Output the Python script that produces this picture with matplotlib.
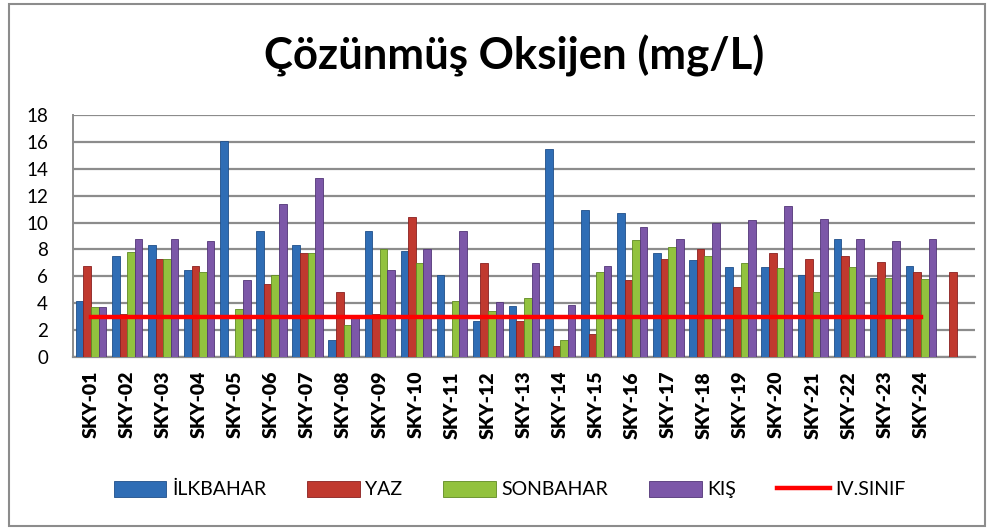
import numpy as np
import matplotlib
matplotlib.use("Agg")
import matplotlib.pyplot as plt
from matplotlib.patches import Rectangle

plt.rcParams['font.family'] = ['Lato', 'DejaVu Sans']

# Data
stations = ["SKY-01", "SKY-02", "SKY-03", "SKY-04", "SKY-05", "SKY-06", "SKY-07", "SKY-08",
            "SKY-09", "SKY-10", "SKY-11", "SKY-12", "SKY-13", "SKY-14", "SKY-15", "SKY-16",
            "SKY-17", "SKY-18", "SKY-19", "SKY-20", "SKY-21", "SKY-22", "SKY-23", "SKY-24", ""]
ilkbahar = [4.2, 7.5, 8.3, 6.5, 16.1, 9.4, 8.3, 1.3, 9.4, 7.9, 6.1, 2.7, 3.8, 15.5, 10.9,
            10.7, 7.7, 7.2, 6.7, 6.7, 6.1, 8.8, 5.9, 6.8, np.nan]
yaz = [6.8, 3.2, 7.3, 6.8, 0, 5.4, 7.7, 4.8, 3.2, 10.4, 0, 7.0, 2.7, 0.8, 1.7,
       5.7, 7.3, 8.0, 5.2, 7.7, 7.3, 7.5, 7.1, 6.3, 6.3]
sonbahar = [3.7, 7.8, 7.3, 6.3, 3.6, 6.1, 7.7, 2.4, 8.0, 7.0, 4.2, 3.4, 4.4, 1.3, 6.3,
            8.7, 8.2, 7.5, 7.0, 6.6, 4.8, 6.7, 5.9, 5.8, np.nan]
kis = [3.7, 8.8, 8.8, 8.6, 5.7, 11.4, 13.3, 2.9, 6.5, 8.0, 9.4, 4.1, 7.0, 3.9, 6.8,
       9.7, 8.8, 10.0, 10.2, 11.2, 10.3, 8.8, 8.6, 8.8, np.nan]
sinif = [3, 3, 3, 3, 3, 3, 3, 3, 3, 3, 3, 3, 3, 3, 3, 3, 3, 3, 3, 3, 3, 3, 3, 3]

series = [
    ("İLKBAHAR", ilkbahar, "#2f6db5", "#1f4f8a"),
    ("YAZ", yaz, "#c0392f", "#8a2020"),
    ("SONBAHAR", sonbahar, "#92c23e", "#5f8a22"),
    ("KIŞ", kis, "#7c57a8", "#523577"),
]

fig = plt.figure(figsize=(9.94, 5.31), dpi=100)
ax = fig.add_axes([0.0734, 0.3277, 0.9076, 0.4557])

x = np.arange(len(stations))
w = 0.21
handles = []
for i, (name, vals, col, edge) in enumerate(series):
    b = ax.bar(x + (i - 1.5) * w, vals, width=w, color=col, edgecolor=edge,
               linewidth=0.6, label=name, zorder=3)
    handles.append(b)

line, = ax.plot(np.arange(len(sinif)), sinif, color="#ff0000", linewidth=3.2,
                label="IV.SINIF", zorder=4)
handles.append(line)

ax.set_xlim(-0.5, len(stations) - 0.5)
ax.set_ylim(0, 18)
ax.set_yticks(range(0, 19, 2))
ax.tick_params(axis="y", labelsize=13.5, length=0, pad=18)
ax.tick_params(axis="x", length=0, pad=10)
ax.set_xticks(x)
ax.set_xticklabels(stations, rotation=90, fontsize=14, fontweight="heavy")

ax.grid(axis="y", color="#8c8c8c", linewidth=1.6, zorder=0)
for s in ["top", "right"]:
    ax.spines[s].set_visible(False)
ax.spines["left"].set_color("#8c8c8c")
ax.spines["bottom"].set_color("#8c8c8c")
ax.spines["left"].set_linewidth(1.4)
ax.spines["bottom"].set_linewidth(1.6)

fig.suptitle("Çözünmüş Oksijen (mg/L)", x=0.517, y=0.935, fontsize=31.5, fontweight="bold")

fig.legend(handles, [h.get_label() for h in handles], loc="center",
           bbox_to_anchor=(0.513, 0.078), ncol=5, frameon=False, fontsize=14,
           handlelength=2.7, handleheight=0.9, columnspacing=2.1, handletextpad=0.3)

fig.add_artist(Rectangle((0.009, 0.01), 0.982, 0.982, transform=fig.transFigure,
                         fill=False, edgecolor="#8c8c8c", linewidth=1.5))

fig.savefig("out.png", dpi=100)
